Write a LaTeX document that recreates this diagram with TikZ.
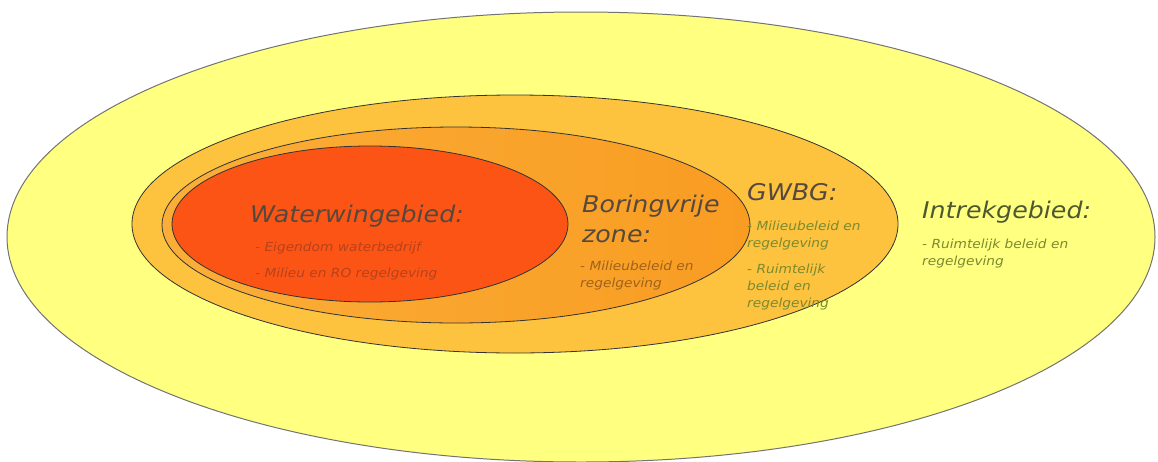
\documentclass[tikz,border=0pt]{standalone}
\usepackage{fontspec}
\setmainfont[FakeStretch=1.1]{DejaVu Sans}
\usetikzlibrary{shapes.geometric,positioning}

\definecolor{intrekgeel}{HTML}{FFFF80}
\definecolor{gwbgoranje}{HTML}{FDC23E}
\definecolor{boringlicht}{HTML}{FAAE38}
\definecolor{boringdonker}{HTML}{F99C22}
\definecolor{waterrood}{HTML}{FC5414}
\definecolor{kopgrijs}{HTML}{55483E}
\definecolor{rodetekst}{HTML}{B8421C}
\definecolor{bruinetekst}{HTML}{A0621A}
\definecolor{groenetekst}{HTML}{7C8A2E}
\definecolor{olijfkop}{HTML}{4C5830}

\begin{document}
\begin{tikzpicture}[x=1pt, y=-1pt,
    zone/.style={ellipse, inner sep=0pt, draw=black!80, line width=0.8pt},
    kop/.style={anchor=base west, inner sep=0pt, align=left,
        font=\itshape\fontsize{23}{30}\selectfont},
    uitleg/.style={anchor=base west, inner sep=0pt, align=left,
        font=\itshape\fontsize{12.5}{17}\selectfont}]

\useasboundingbox (0,0) rectangle (1158,461);

% Nested zones, outer to inner
\node[zone, draw=black!55, line width=1pt, fill=intrekgeel,
    minimum width=1148pt, minimum height=450pt] (intrek) at (581,237) {};
\node[zone, fill=gwbgoranje,
    minimum width=766pt, minimum height=258pt] (gwbg) at (515,224) {};
\node[zone, left color=boringlicht, right color=boringdonker,
    minimum width=588pt, minimum height=196pt] (boring) at (456,225) {};
\node[zone, fill=waterrood,
    minimum width=396pt, minimum height=156pt] (waterwin) at (370,224) {};

% Waterwingebied (base = last line)
\node[kop, kopgrijs] (waterwinkop) at (250,222) {Waterwingebied:};
\node[uitleg, rodetekst, font=\itshape\fontsize{12.5}{26}\selectfont]
    (waterwintxt) at (255,277)
    {- Eigendom waterbedrijf\\- Milieu en RO regelgeving};

% Boringvrije zone
\node[kop, kopgrijs] (boringkop) at (582,242) {Boringvrije\\zone:};
\node[uitleg, bruinetekst] (boringtxt) at (580,287)
    {- Milieubeleid en\\regelgeving};

% GWBG
\node[kop, kopgrijs] (gwbgkop) at (747,200) {GWBG:};
\node[uitleg, groenetekst] (gwbgtxt) at (747,307)
    {- Milieubeleid en\\regelgeving\\[9pt]- Ruimtelijk\\beleid en\\regelgeving};

% Intrekgebied
\node[kop, olijfkop] (intrekkop) at (922,218) {Intrekgebied:};
\node[uitleg, groenetekst] (intrektxt) at (922,265)
    {- Ruimtelijk beleid en\\regelgeving};

\end{tikzpicture}
\end{document}
